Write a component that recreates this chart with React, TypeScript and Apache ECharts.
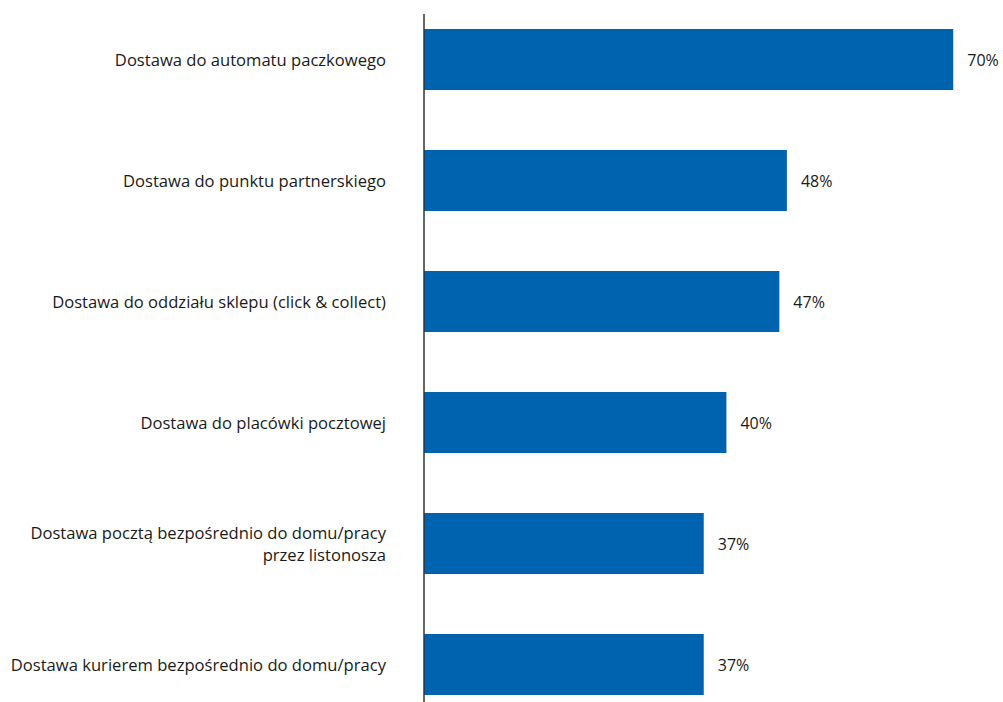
import React, { useEffect, useRef } from "react";
import * as echarts from "echarts";

const categories = [
  "Dostawa do automatu paczkowego",
  "Dostawa do punktu partnerskiego",
  "Dostawa do oddziału sklepu (click & collect)",
  "Dostawa do placówki pocztowej",
  "Dostawa pocztą bezpośrednio do domu/pracy\nprzez listonosza",
  "Dostawa kurierem bezpośrednio do domu/pracy",
];
const values = [70, 48, 47, 40, 37, 37];

const FONT = "Open Sans";

export default function App() {
  const ref = useRef<HTMLDivElement>(null);
  useEffect(() => {
    const chart = echarts.init(ref.current!, null, { renderer: "svg" });
    chart.setOption({
      animation: false,
      grid: {
        left: 424,
        right: 4.4,
        top: -1,
        bottom: -23,
        containLabel: false,
        outerBoundsMode: "none",
      },
      xAxis: {
        type: "value",
        min: 0,
        max: 76,
        show: false,
      },
      yAxis: {
        type: "category",
        data: categories,
        inverse: true,
        axisLine: { show: false },
        axisTick: { show: false },
        axisLabel: {
          margin: 38,
          fontFamily: FONT,
          fontSize: 16.6,
          color: "#1a1a1a",
          lineHeight: 22,
          align: "right",
        },
      },
      graphic: [
        {
          type: "line",
          shape: { x1: 424, y1: 14, x2: 424, y2: 702 },
          style: { stroke: "#333333", lineWidth: 1.5 },
          z: 10,
        },
      ],
      series: [
        {
          type: "bar",
          data: values,
          barWidth: "50.4%",
          itemStyle: { color: "#0063B0" },
          label: {
            show: true,
            position: "right",
            distance: 14,
            formatter: "{c}%",
            fontFamily: FONT,
            fontSize: 16,
            color: "#1a1a1a",
          },
        },
      ],
    });
    return () => chart.dispose();
  }, []);
  return (
    <div
      ref={ref}
      style={{ position: "absolute", left: 0, top: 0, width: 1003, height: 702 }}
    />
  );
}
